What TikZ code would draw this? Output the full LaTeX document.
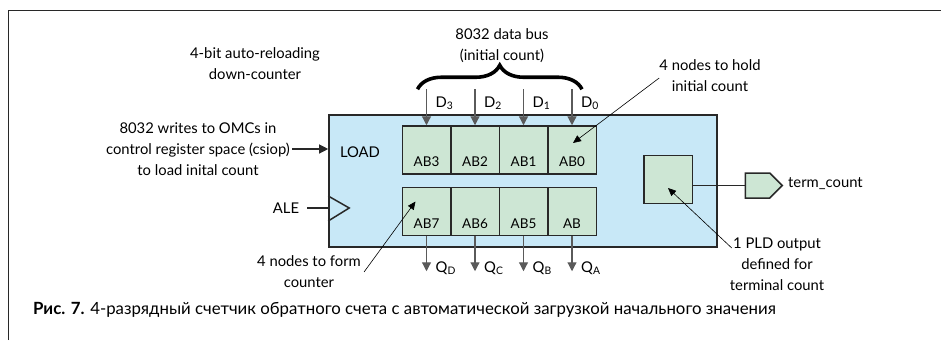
\documentclass[tikz,border=0pt]{standalone}
\usepackage{fontspec}
\setmainfont{Lato}
\usepackage{tikz}
\usetikzlibrary{arrows.meta,calc,decorations.pathreplacing,shapes.symbols}
\definecolor{chipblue}{RGB}{200,232,247}
\definecolor{cellgreen}{RGB}{205,230,212}
\definecolor{edgegray}{RGB}{40,40,40}
\definecolor{siggray}{RGB}{90,90,90}
\tikzset{
    chip/.style={rectangle, draw=edgegray, line width=1.6pt, fill=chipblue, minimum width=388pt, minimum height=132pt, inner sep=0pt},
    cell/.style={rectangle, draw=edgegray, line width=1.5pt, fill=cellgreen, minimum width=48.5pt, minimum height=48pt, inner sep=0pt, text height=33pt, text depth=0pt, font=\fontsize{13.5}{15}\selectfont},
    outpin/.style={signal, signal to=east, draw=edgegray, line width=1.5pt, fill=cellgreen, minimum width=37pt, minimum height=25pt, inner sep=0pt},
    txt/.style={align=center, inner sep=2pt, font=\fontsize{14.8}{21}\selectfont},
    pinlab/.style={anchor=west, inner sep=1pt, font=\fontsize{14.8}{16}\selectfont},
    sig/.style={draw=siggray, line width=1.2pt, -{Triangle[length=9pt,width=9pt]}},
    wire/.style={draw=edgegray, line width=1.5pt},
    lead/.style={draw=black, line width=0.6pt, -{Triangle[length=8pt,width=7pt]}},
    bus/.style={decorate, decoration={brace, amplitude=24pt}, line width=3.6pt},
    frame/.style={draw=edgegray, line width=1pt},
}

\begin{document}
\begin{tikzpicture}[x=1pt, y=-1pt]
    \useasboundingbox (0,0) rectangle (941,340);
    \draw[frame] (8,340) -- (8,10) -- (941,10);

    \node[chip] (chip) at (523,181) {};
    \foreach \n/\t [count=\i from 0] in {ab3/AB3, ab2/AB2, ab1/AB1, ab0/AB0}
        \node[cell] (\n) at (426.5+48.5*\i,150) {\t};
    \foreach \n/\t [count=\i from 0] in {ab7/AB7, ab6/AB6, ab5/AB5, ab4/AB}
        \node[cell] (\n) at (426.5+48.5*\i,211.5) {\t};
    \node[cell, text height=0pt] (tc) at (668,179.5) {};
    \node[outpin] (term) at (757.5,185.5) {};
    \node[pinlab] (termlab) at (787,184) {term\_count};
    \draw[wire] (tc.east |- term.west) -- (term.west);

    % data bus inputs
    \node[txt] (bus) at (502,46) {8032 data bus\\(initial count)};
    \foreach \n/\d in {ab3/3, ab2/2, ab1/1, ab0/0} {
        \coordinate (d\d) at ($(\n.north)+(0,-36)$);
        \draw[sig] (d\d) -- (\n.north);
        \node[pinlab] (dl\d) at ($(d\d)+(8,14)$) {D\textsubscript{\d}};
    }
    \coordinate (bl) at ($(d3)+(-9,0)$);
    \coordinate (br) at ($(d0)+(10,0)$);
    \draw[bus] (bl) -- (br);

    % counter outputs
    \foreach \n/\q in {ab7/D, ab6/C, ab5/B, ab4/A} {
        \coordinate (q\q) at ($(\n.south)+(0,35)$);
        \draw[sig] (\n.south) -- (q\q);
        \node[pinlab] (ql\q) at ($(q\q)+(8,-3)$) {Q\textsubscript{\q}};
    }

    % load and clock
    \node[txt] (title) at (255,64) {4-bit auto-reloading\\down-counter};
    \node[txt] (osm) at (198,149) {8032 writes to OMCs in\\control register space (csiop)\\to load inital count};
    \node[txt] (load) at (360,152) {LOAD};
    \draw[sig, draw=edgegray] (osm.east) -- (osm.east -| chip.west);
    \node[txt] (ale) at (286,208) {ALE};
    \coordinate (clk) at (chip.west |- ale);
    \draw[wire, shorten <=6pt] (ale.east) -- (clk);
    \draw[wire] ($(clk)+(0,-12)$) -- ($(clk)+(21,0)$) -- ($(clk)+(0,13)$);

    % notes
    \node[txt] (hold) at (710,76) {4 nodes to hold\\initial count};
    \draw[lead] ($(hold.west)+(2,2)$) -- ($(ab0.center)+(1,-7)$);
    \node[txt] (form) at (309,272) {4 nodes to form\\counter};
    \draw[lead] ($(form.east)+(1,0)$) -- ($(ab7.center)+(-11,-10)$);
    \node[txt] (pld) at (777,264) {1 PLD output\\defined for\\terminal count};
    \draw[lead] ($(pld.west)+(4,-16)$) -- ($(tc.center)+(0,8.5)$);

    \node[anchor=west, inner sep=0pt, font=\fontsize{16.8}{18}\selectfont] (cap) at (33,310) {\textbf{Рис. 7.} 4-разрядный счетчик обратного счета с автоматической загрузкой начального значения};
\end{tikzpicture}
\end{document}
